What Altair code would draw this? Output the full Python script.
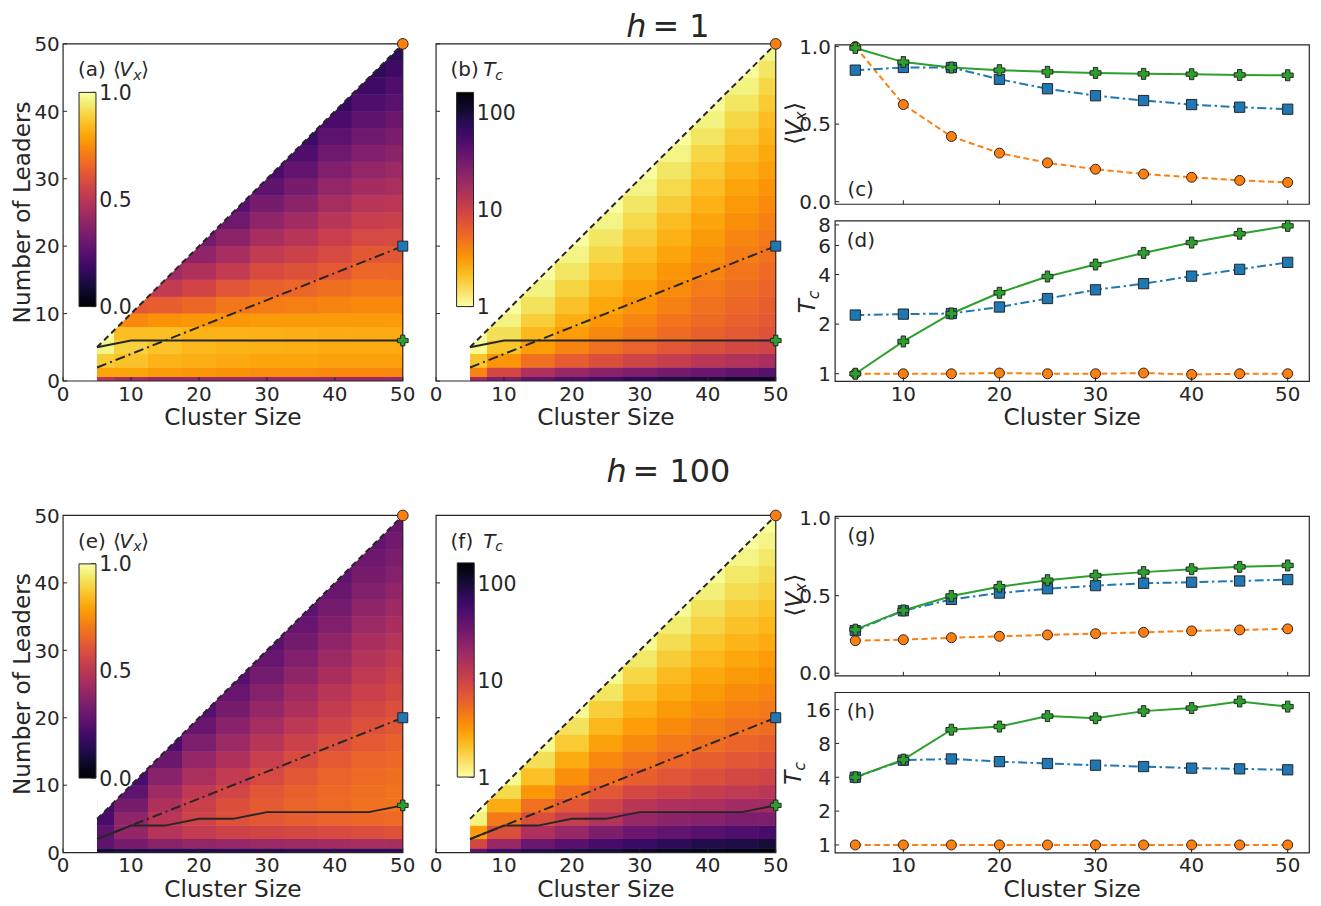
import altair as alt
import pandas as pd

FONT = "DejaVu Sans"
INK = "#262626"
C_ORANGE = "#ff7f0e"
C_BLUE = "#1f77b4"
C_GREEN = "#2ca02c"

# ---------------- data ----------------
CLUSTER_SIZES = [5, 10, 15, 20, 25, 30, 35, 40, 45, 50]
ROW_EDGES = [0, 0.6, 2, 4, 6, 8, 10, 12.5, 15, 17.5, 20, 22.5, 25, 27.5, 30,
             32.5, 35, 37.5, 40, 42.5, 45, 47.5, 50]
LEADERS_ALL = [5, 10, 15, 20, 25, 30, 35, 40, 45, 50]
LEADERS_FRAC = [2, 4, 6, 8, 10, 12, 14, 16, 18, 20]
LEADERS_OPT_H1 = [5, 6, 6, 6, 6, 6, 6, 6, 6, 6]
LEADERS_OPT_H100 = [2, 4, 4, 5, 5, 6, 6, 6, 6, 7]

# heat-map values, one list per cluster size (rows follow ROW_EDGES from the bottom)
VX_MAP_H1 = [
    [0.50, 0.80, 0.88, 0.97, 0.99],
    [0.45, 0.80, 0.86, 0.89, 0.85, 0.74, 0.63],
    [0.42, 0.78, 0.83, 0.86, 0.85, 0.76, 0.64, 0.52, 0.43],
    [0.42, 0.77, 0.82, 0.84, 0.83, 0.77, 0.66, 0.56, 0.47, 0.39, 0.32],
    [0.42, 0.76, 0.81, 0.83, 0.83, 0.77, 0.70, 0.61, 0.52, 0.45, 0.38, 0.31, 0.26],
    [0.42, 0.75, 0.80, 0.825, 0.825, 0.78, 0.71, 0.645, 0.58, 0.52, 0.45, 0.39, 0.33, 0.27, 0.22],
    [0.42, 0.75, 0.80, 0.82, 0.82, 0.78, 0.72, 0.66, 0.60, 0.545, 0.49, 0.435, 0.38, 0.33, 0.28,
     0.23, 0.185],
    [0.42, 0.74, 0.79, 0.81, 0.815, 0.78, 0.73, 0.68, 0.625, 0.58, 0.535, 0.49, 0.445, 0.40,
     0.355, 0.31, 0.265, 0.22, 0.175],
    [0.42, 0.74, 0.79, 0.81, 0.81, 0.78, 0.74, 0.70, 0.66, 0.62, 0.575, 0.53, 0.49, 0.44, 0.40,
     0.355, 0.31, 0.27, 0.23, 0.19, 0.15],
    [0.42, 0.74, 0.79, 0.81, 0.81, 0.78, 0.74, 0.70, 0.66, 0.62, 0.58, 0.54, 0.50, 0.46, 0.42,
     0.38, 0.34, 0.30, 0.26, 0.23, 0.19, 0.155],
]
TC_MAP_H1 = [
    [18, 4.0, 2.0, 1.1, 1.0],
    [28, 9.0, 3.3, 2.0, 1.5, 1.2, 1.02],
    [40, 15, 5.0, 3.0, 2.25, 1.8, 1.45, 1.2, 1.02],
    [50, 20, 6.5, 4.0, 3.0, 2.5, 2.05, 1.7, 1.4, 1.18, 1.02],
    [60, 24, 8.0, 5.0, 3.8, 3.2, 2.7, 2.3, 1.95, 1.65, 1.4, 1.18, 1.02],
    [75, 28, 9.5, 6.0, 4.5, 3.9, 3.35, 2.9, 2.5, 2.15, 1.85, 1.6, 1.38, 1.18, 1.02],
    [90, 32, 11, 7.0, 5.3, 4.7, 4.1, 3.6, 3.2, 2.8, 2.45, 2.15, 1.85, 1.6, 1.38, 1.18, 1.03],
    [100, 36, 13, 8.0, 6.1, 5.4, 4.9, 4.4, 3.9, 3.5, 3.1, 2.75, 2.45, 2.15, 1.9, 1.65, 1.4,
     1.2, 1.05],
    [115, 40, 14.5, 8.8, 6.8, 6.1, 5.6, 5.1, 4.7, 4.3, 3.9, 3.5, 3.1, 2.8, 2.45, 2.15, 1.9,
     1.65, 1.4, 1.2, 1.05],
    [125, 45, 16, 9.5, 7.5, 6.8, 6.3, 5.8, 5.3, 4.9, 4.5, 4.1, 3.7, 3.3, 2.95, 2.65, 2.4,
     2.15, 1.9, 1.65, 1.4, 1.17],
]
VX_MAP_H100 = [
    [0.10, 0.27, 0.27, 0.22, 0.21],
    [0.12, 0.33, 0.40, 0.39, 0.33, 0.27, 0.22],
    [0.13, 0.38, 0.48, 0.495, 0.47, 0.43, 0.37, 0.30, 0.235],
    [0.13, 0.40, 0.52, 0.555, 0.54, 0.51, 0.46, 0.40, 0.345, 0.29, 0.245],
    [0.14, 0.41, 0.55, 0.60, 0.595, 0.565, 0.52, 0.47, 0.42, 0.375, 0.33, 0.29, 0.25],
    [0.14, 0.42, 0.56, 0.62, 0.63, 0.615, 0.575, 0.535, 0.49, 0.445, 0.405, 0.365, 0.325,
     0.29, 0.26],
    [0.15, 0.43, 0.57, 0.635, 0.65, 0.645, 0.62, 0.585, 0.545, 0.505, 0.465, 0.43, 0.39,
     0.355, 0.32, 0.29, 0.265],
    [0.15, 0.44, 0.58, 0.65, 0.67, 0.665, 0.65, 0.625, 0.59, 0.555, 0.52, 0.49, 0.455, 0.42,
     0.39, 0.355, 0.325, 0.295, 0.275],
    [0.15, 0.45, 0.59, 0.66, 0.685, 0.68, 0.67, 0.65, 0.625, 0.60, 0.57, 0.54, 0.51, 0.48,
     0.45, 0.42, 0.39, 0.36, 0.33, 0.305, 0.28],
    [0.15, 0.45, 0.60, 0.67, 0.69, 0.69, 0.68, 0.665, 0.645, 0.62, 0.595, 0.57, 0.545, 0.515,
     0.485, 0.455, 0.425, 0.395, 0.365, 0.34, 0.315, 0.29],
]
TC_MAP_H100 = [
    [40, 9, 3.0, 1.2, 1.0],
    [60, 20, 8, 4.5, 2.6, 1.6, 1.1],
    [80, 35, 15, 8.0, 5.0, 3.2, 2.1, 1.5, 1.1],
    [90, 45, 20, 11, 7.0, 5.0, 3.5, 2.6, 1.9, 1.45, 1.1],
    [100, 55, 28, 14, 9.5, 7.0, 5.0, 3.8, 2.9, 2.3, 1.8, 1.4, 1.1],
    [110, 65, 35, 20, 13, 9.0, 6.2, 4.7, 3.7, 3.0, 2.45, 2.0, 1.65, 1.35, 1.1],
    [120, 75, 40, 23, 15, 10, 7.3, 5.6, 4.5, 3.7, 3.1, 2.6, 2.2, 1.85, 1.55, 1.3, 1.08],
    [130, 85, 45, 25, 16, 11, 8.0, 6.3, 5.1, 4.3, 3.6, 3.1, 2.7, 2.3, 2.0, 1.7, 1.45, 1.25,
     1.07],
    [140, 90, 50, 28, 18, 12, 8.8, 7.0, 5.8, 4.9, 4.2, 3.6, 3.1, 2.7, 2.35, 2.05, 1.8, 1.55,
     1.35, 1.17, 1.04],
    [150, 100, 55, 28, 18, 13, 9.5, 7.5, 6.2, 5.2, 4.5, 3.9, 3.4, 3.0, 2.6, 2.3, 2.0, 1.75,
     1.55, 1.35, 1.18, 1.05],
]

# line-plot series
VX_H1_DIAG = [1.0, 0.626, 0.42, 0.313, 0.25, 0.209, 0.178, 0.157, 0.137, 0.124]
VX_H1_FRAC = [0.848, 0.865, 0.865, 0.789, 0.728, 0.683, 0.652, 0.626, 0.609, 0.596]
VX_H1_OPT = [0.991, 0.90, 0.865, 0.848, 0.837, 0.83, 0.824, 0.822, 0.817, 0.815]
TC_H1_DIAG = [1.0, 1.0, 1.0, 1.01, 1.0, 1.0, 1.01, 0.99, 1.0, 1.0]
TC_H1_FRAC = [2.27, 2.30, 2.32, 2.54, 2.86, 3.23, 3.52, 3.91, 4.30, 4.74]
TC_H1_OPT = [1.0, 1.57, 2.32, 3.10, 3.89, 4.60, 5.41, 6.25, 7.07, 7.89]
VX_H100_DIAG = [0.21, 0.216, 0.229, 0.238, 0.247, 0.255, 0.264, 0.273, 0.279, 0.286]
VX_H100_FRAC = [0.275, 0.403, 0.476, 0.517, 0.545, 0.565, 0.58, 0.587, 0.595, 0.604]
VX_H100_OPT = [0.281, 0.405, 0.498, 0.558, 0.60, 0.63, 0.652, 0.671, 0.686, 0.695]
TC_H100_DIAG = [1.0, 1.0, 1.0, 1.0, 1.0, 1.0, 1.0, 1.0, 1.0, 1.0]
TC_H100_FRAC = [4.0, 5.67, 5.82, 5.51, 5.30, 5.12, 4.98, 4.82, 4.75, 4.66]
TC_H100_OPT = [4.0, 5.74, 10.6, 11.3, 14.0, 13.4, 15.5, 16.5, 18.9, 17.0]

HM_TICKS = [0, 10, 20, 30, 40, 50]
RC_XTICKS = [10, 20, 30, 40, 50]
VX_TICKS = [0.0, 0.5, 1.0]
TC_TICKS_H1 = [1, 2, 4, 6, 8]
TC_TICKS_H100 = [1, 2, 4, 8, 16]
VX_CBAR_TICKS = [0.0, 0.5, 1.0]
TC_CBAR_TICKS = [1, 10, 100]

# ---------------- layout (page pixels) ----------------
OX, OY = 8, 8
ROW2 = 473.4
TICK = 4
FS_TICK = 20
FS_TITLE = 23.3
FS_LABEL = 20
FS_CBAR = 20.5
CBAR_LEN, CBAR_W = 215, 17
VX_DOMAIN = [0, 1]
TC_DOMAIN = [1, 163]


def X(p):
    return p - OX


def Y(p):
    return p - OY


def lin(dom, r0, r1):
    return alt.Scale(domain=dom, range=[r0, r1], nice=False, zero=False)


def logs(dom, r0, r1):
    return alt.Scale(type="log", domain=dom, range=[r0, r1], nice=False)


def one():
    return pd.DataFrame({"s": [""]})


def ptxt(s, x, y, size=FS_LABEL, italic=False, align="left", angle=0):
    return alt.Chart(pd.DataFrame({"s": [s]})).mark_text(
        align=align, baseline="alphabetic", fontSize=size, font=FONT,
        fontStyle="italic" if italic else "normal", color=INK, angle=angle
    ).encode(x=alt.value(X(x)), y=alt.value(Y(y)), text="s:N")


def frame(x0, x1, y0, y1):
    return alt.Chart(one()).mark_rect(fillOpacity=0, stroke=INK, strokeWidth=1.2).encode(
        x=alt.value(X(x0)), x2=alt.value(X(x1)), y=alt.value(Y(y0)), y2=alt.value(Y(y1)))


def xticks(vals, xs, ybot):
    return alt.Chart(pd.DataFrame({"t": vals})).mark_rule(color=INK, strokeWidth=1).encode(
        x=alt.X("t:Q", scale=xs, axis=None), y=alt.value(Y(ybot)), y2=alt.value(Y(ybot) - TICK))


def yticks(vals, ys, xleft, length=TICK):
    return alt.Chart(pd.DataFrame({"t": vals})).mark_rule(color=INK, strokeWidth=1).encode(
        y=alt.Y("t:Q", scale=ys, axis=None), x=alt.value(X(xleft)), x2=alt.value(X(xleft) + length))


def xlabels(vals, xs, base, fmt):
    return alt.Chart(pd.DataFrame({"t": vals})).mark_text(
        align="center", baseline="alphabetic", fontSize=FS_TICK, font=FONT, color=INK
    ).encode(x=alt.X("t:Q", scale=xs, axis=None), y=alt.value(Y(base)),
             text=alt.Text("t:Q", format=fmt))


def ylabels(vals, ys, xpos, fmt, align="right", size=FS_TICK):
    return alt.Chart(pd.DataFrame({"t": vals})).mark_text(
        align=align, baseline="alphabetic", dy=0.365 * size, fontSize=size, font=FONT, color=INK
    ).encode(y=alt.Y("t:Q", scale=ys, axis=None), x=alt.value(X(xpos)),
             text=alt.Text("t:Q", format=fmt))


def heat_panel(box, table, is_tc, opt_leaders, show_y, cbar_xy, label_layers):
    x0, x1, y0, y1 = box
    xs = lin([0, 50], X(x0), X(x1))
    ys = lin([0, 50], Y(y1), Y(y0))
    cells = []
    for n, col in zip(CLUSTER_SIZES, table):
        for i, v in enumerate(col):
            cells.append({"c0": max(5, n - 2.5), "c1": min(50, n + 2.5),
                          "r0": ROW_EDGES[i], "r1": ROW_EDGES[i + 1], "v": v})
    cells = pd.DataFrame(cells)
    cb_left, cb_top = cbar_xy
    cb_right, cb_bot = cb_left + CBAR_W, cb_top + CBAR_LEN
    if is_tc:
        cs = dict(type="log", domain=TC_DOMAIN, scheme="inferno", reverse=True)
        cvals, cfmt = TC_CBAR_TICKS, "d"
        cscale = logs(TC_DOMAIN, Y(cb_bot), Y(cb_top))
    else:
        cs = dict(domain=VX_DOMAIN, scheme="inferno")
        cvals, cfmt = VX_CBAR_TICKS, ".1f"
        cscale = lin(VX_DOMAIN, Y(cb_bot), Y(cb_top))

    def rect_layer(with_legend):
        if with_legend:
            leg = alt.Legend(orient="none", legendX=X(cb_left), legendY=Y(cb_top),
                             direction="vertical", gradientLength=CBAR_LEN,
                             gradientThickness=CBAR_W, labelOpacity=0, values=cvals,
                             labelFontSize=1, labelOverlap=False)
        else:
            leg = None
        return alt.Chart(cells).mark_rect().encode(
            x=alt.X("c0:Q", scale=xs, axis=None), x2="c1:Q",
            y=alt.Y("r0:Q", scale=ys, axis=None), y2="r1:Q",
            color=alt.Color("v:Q", scale=alt.Scale(**cs), title=None, legend=leg))

    ldf = pd.DataFrame({"N": CLUSTER_SIZES, "all": LEADERS_ALL,
                        "frac": LEADERS_FRAC, "opt": opt_leaders})
    xe = alt.X("N:Q", scale=xs, axis=None)
    mask = alt.Chart(ldf).mark_area(color="white").encode(
        x=xe, y=alt.Y("all:Q", scale=ys, axis=None), y2=alt.datum(50))

    def hline(field, dash):
        kw = dict(color=INK, strokeWidth=2)
        if dash:
            kw["strokeDash"] = dash
        return alt.Chart(ldf).mark_line(**kw).encode(
            x=xe, y=alt.Y(f"{field}:Q", scale=ys, axis=None))

    def endpt(field, shape, fill, size):
        return alt.Chart(ldf).transform_filter(alt.datum.N == CLUSTER_SIZES[-1]).mark_point(
            shape=shape, filled=True, fill=fill, stroke=INK, strokeWidth=1, size=size, opacity=1
        ).encode(x=xe, y=alt.Y(f"{field}:Q", scale=ys, axis=None))

    layers = [rect_layer(True), rect_layer(False), mask,
              hline("all", [6, 4]), hline("frac", [10, 4, 2, 4]), hline("opt", None),
              frame(x0, x1, y0, y1), xticks(HM_TICKS, xs, y1), yticks(HM_TICKS, ys, x0),
              endpt("all", "circle", C_ORANGE, 115), endpt("frac", "square", C_BLUE, 100),
              endpt("opt", "cross", C_GREEN, 115),
              xlabels(HM_TICKS, xs, y1 + 19.6, "d"),
              ptxt("Cluster Size", (x0 + x1) / 2, y1 + 44.3, FS_TITLE, align="center"),
              # colour-bar ticks and labels
              yticks(cvals, cscale, cb_right - 5, 5),
              ylabels(cvals, cscale, cb_right + 3.3, cfmt, align="left", size=FS_CBAR)]
    if show_y:
        layers += [ylabels(HM_TICKS, ys, x0 - 3.3, "d"),
                   ptxt("Number of Leaders", 30.5, (y0 + y1) / 2, FS_TITLE, align="center", angle=270)]
    return layers + label_layers


def line_panel(box, diag, frac, opt, ylog, ydom, yvals, yfmt, show_x, label_layers):
    x0, x1, y0, y1 = box
    xs = lin([2.9, 52.25], X(x0), X(x1))
    ys = logs(ydom, Y(y1), Y(y0)) if ylog else lin(ydom, Y(y1), Y(y0))
    df = pd.DataFrame({"N": CLUSTER_SIZES, "diag": diag, "frac": frac, "opt": opt})
    specs = [("diag", C_ORANGE, [6, 3.5], "circle", 100),
             ("frac", C_BLUE, [9, 3.5, 2.5, 3.5], "square", 106),
             ("opt", C_GREEN, None, "cross", 121)]
    layers = [frame(x0, x1, y0, y1)]
    for field, col, dash, shape, size in specs:
        kw = dict(color=col, strokeWidth=2)
        if dash:
            kw["strokeDash"] = dash
        enc = dict(x=alt.X("N:Q", scale=xs, axis=None), y=alt.Y(f"{field}:Q", scale=ys, axis=None))
        layers.append(alt.Chart(df).mark_line(**kw).encode(**enc))
        layers.append(alt.Chart(df).mark_point(
            shape=shape, filled=True, fill=col, stroke=INK, strokeWidth=1, size=size, opacity=1
        ).encode(**enc))
    layers += [xticks(RC_XTICKS, xs, y1), yticks(yvals, ys, x0), ylabels(yvals, ys, x0 - 4.3, yfmt)]
    if show_x:
        layers += [xlabels(RC_XTICKS, xs, y1 + 19.3, "d"),
                   ptxt("Cluster Size", (x0 + x1) / 2, y1 + 44.3, FS_TITLE, align="center")]
    return layers + label_layers


def vx_title(bx, top):
    return [ptxt("\u27e8", bx, top + 100.3, FS_TITLE, angle=270),
            ptxt("V", bx, top + 91.7, FS_TITLE, italic=True, angle=270),
            ptxt("x", bx + 4.3, top + 76.2, 16, italic=True, angle=270),
            ptxt("\u27e9", bx, top + 66.5, FS_TITLE, angle=270)]


def tc_title(bx, top):
    return [ptxt("T", bx, top + 92.7, FS_TITLE, italic=True, angle=270),
            ptxt("c", bx + 4, top + 78.6, 16, italic=True, angle=270)]


def vx_label(letter, dy):
    return [ptxt(f"({letter})", 78.3, 75 + dy), ptxt("\u27e8", 113.3, 75 + dy),
            ptxt("V", 119.8, 75 + dy, italic=True), ptxt("x", 133.8, 78.3 + dy, 14, italic=True),
            ptxt("\u27e9", 141.8, 75 + dy)]


def tc_label(letter, dy):
    return [ptxt(f"({letter})", 452.3, 75 + dy), ptxt("T", 485, 75 + dy, italic=True),
            ptxt("c", 497.2, 78.3 + dy, 14, italic=True)]


BOX_A = (63.3, 404.3, 42.3, 380.7)
BOX_B = (437.7, 778.7, 42.3, 380.7)
BOX_C = (838.3, 1314.3, 43.3, 203.3)
BOX_D = (838.3, 1314.3, 220.0, 381.0)


def shift(b):
    return (b[0], b[1], b[2] + ROW2, b[3] + ROW2)


layers = []
# ---- row h = 1 ----
layers += heat_panel(BOX_A, VX_MAP_H1, False, LEADERS_OPT_H1, True, (79.3, 91), vx_label("a", 0))
layers += heat_panel(BOX_B, TC_MAP_H1, True, LEADERS_OPT_H1, False, (458.3, 91), tc_label("b", 0))
layers += line_panel(BOX_C, VX_H1_DIAG, VX_H1_FRAC, VX_H1_OPT, False, [-0.017, 1.011], VX_TICKS,
                     ".1f", False, [ptxt("(c)", 850.6, 195)] + vx_title(805, BOX_C[2]))
layers += line_panel(BOX_D, TC_H1_DIAG, TC_H1_FRAC, TC_H1_OPT, True, [0.9, 8.46], TC_TICKS_H1, "d",
                     True, [ptxt("(d)", 850, 246)] + tc_title(818, BOX_D[2]))
layers += [ptxt("h", 649, 35, 32, italic=True, align="right"), ptxt("= 1", 655, 35, 32)]
# ---- row h = 100 ----
layers += heat_panel(shift(BOX_A), VX_MAP_H100, False, LEADERS_OPT_H100, True, (79.3, 564.3),
                     vx_label("e", ROW2))
layers += heat_panel(shift(BOX_B), TC_MAP_H100, True, LEADERS_OPT_H100, False, (459, 563.3),
                     tc_label("f", ROW2))
layers += line_panel(shift(BOX_C), VX_H100_DIAG, VX_H100_FRAC, VX_H100_OPT, False, [-0.017, 1.011],
                     VX_TICKS, ".1f", False,
                     [ptxt("(g)", 850.6, 542.7)] + vx_title(805, BOX_C[2] + ROW2))
layers += line_panel(shift(BOX_D), TC_H100_DIAG, TC_H100_FRAC, TC_H100_OPT, True, [0.85, 22.7],
                     TC_TICKS_H100, "d", True,
                     [ptxt("(h)", 850, 719.4)] + tc_title(804, BOX_D[2] + ROW2))
layers += [ptxt("h", 629, 482, 32, italic=True, align="right"), ptxt("= 100", 635, 482, 32)]

chart = alt.layer(*layers).resolve_scale(
    x="independent", y="independent", color="independent"
).properties(
    width=1310, height=895, padding=0, autosize=alt.AutoSizeParams(type="none")
).configure(font=FONT).configure_view(stroke=None).configure_legend(
    padding=0, gradientStrokeColor=INK, gradientStrokeWidth=1
)

chart.save("out.html", embed_options={"renderer": "svg", "actions": False})
